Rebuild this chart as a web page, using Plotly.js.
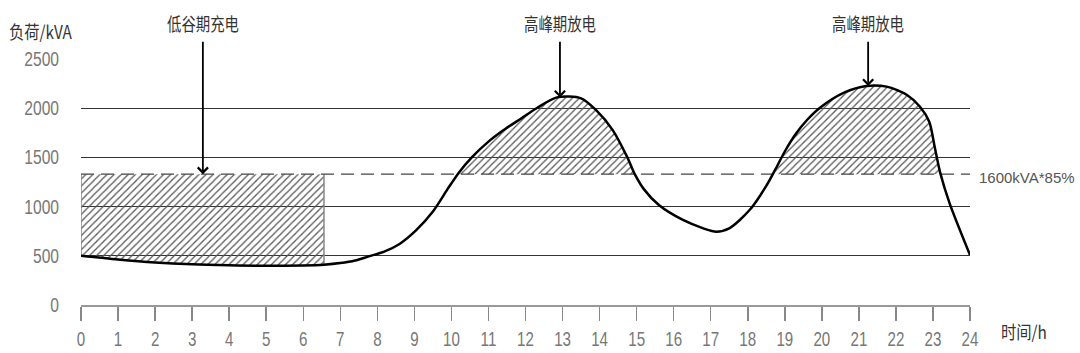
<!DOCTYPE html>
<html>
<head>
<meta charset="utf-8">
<script src="https://cdn.plot.ly/plotly-3.0.1.min.js"></script>
<style>html,body{margin:0;padding:0;background:#fff;}#chart{width:1080px;height:353px;}</style>
</head>
<body>
<div id="chart"></div>
<script>
// ---- data ----
const hours = [0, 1, 2, 3, 4, 5, 6, 6.56, 7, 7.4, 7.75, 8.2, 8.6, 9.05, 9.5, 9.9, 10.2, 10.55, 11.0, 11.4, 11.9, 12.3, 12.85, 13.5, 13.9, 14.35, 14.75, 14.95, 15.2, 15.6, 16.25, 16.8, 17.15, 17.5, 18.05, 18.5, 18.75, 19.0, 19.3, 19.6, 19.95, 20.6, 21.2, 21.75, 22.3, 22.65, 22.9, 23.05, 23.2, 23.45, 24];
const load  = [500, 462, 432, 413, 403, 398, 402, 410, 426, 452, 492, 545, 620, 760, 950, 1180, 1345, 1500, 1660, 1775, 1900, 2000, 2110, 2100, 1982, 1780, 1500, 1330, 1175, 1016, 864, 779, 745, 779, 965, 1210, 1380, 1560, 1740, 1880, 2005, 2158, 2226, 2219, 2134, 2015, 1863, 1600, 1338, 1033, 508];
const threshold = 1330;            // 1600kVA*85% line as drawn
const thresholdLabel = '1600kVA*85%';
const chargeStart = 0;
const chargeEnd = 6.56;            // end of the low-valley charging block (h)
const annoLabels = ['低谷期充电', '高峰期放电', '高峰期放电'];
const annoHours = [3.29, 12.93, 21.25];
const arrowTop = 2690;              // kVA level where the arrows start
const xTicks = [0,1,2,3,4,5,6,7,8,9,10,11,12,13,14,15,16,17,18,19,20,21,22,23,24];
const yTicks = [0, 500, 1000, 1500, 2000, 2500];
const yTitle = '负荷/kVA';
const xTitle = '时间/h';

// ---- helpers ----
function interp(x) {
  for (let i = 0; i < hours.length - 1; i++) {
    if (x >= hours[i] && x <= hours[i + 1]) {
      const t = (x - hours[i]) / (hours[i + 1] - hours[i]);
      return load[i] + t * (load[i + 1] - load[i]);
    }
  }
  return load[load.length - 1];
}
function crossing(i) {
  const t = (threshold - load[i]) / (load[i + 1] - load[i]);
  return hours[i] + t * (hours[i + 1] - hours[i]);
}
const peaks = [];
let start = null;
for (let i = 0; i < hours.length - 1; i++) {
  const a = load[i] - threshold, b = load[i + 1] - threshold;
  if (a <= 0 && b > 0) start = crossing(i);
  if (a > 0 && b <= 0 && start !== null) { peaks.push([start, crossing(i)]); start = null; }
}

const pattern = {shape: '/', size: 5, solidity: 0.25, fgcolor: '#555', bgcolor: 'rgba(0,0,0,0)'};
const SMOOTH = 0.8;
const traces = [];

// charging block
{
  const xs = [chargeStart], ys = [interp(chargeStart)];
  hours.forEach((h, i) => { if (h > chargeStart && h < chargeEnd) { xs.push(h); ys.push(load[i]); } });
  xs.push(chargeEnd); ys.push(interp(chargeEnd));
  traces.push({x: xs, y: ys, mode: 'lines', line: {width: 0, shape: 'spline', smoothing: SMOOTH}, hoverinfo: 'skip'});
  traces.push({x: [chargeStart, chargeEnd], y: [threshold, threshold], mode: 'lines', line: {width: 0},
    fill: 'tonexty', fillcolor: 'rgba(0,0,0,0)', fillpattern: pattern, hoverinfo: 'skip'});
  traces.push({x: [chargeStart, chargeStart, null, chargeEnd, chargeEnd],
    y: [interp(chargeStart), threshold, null, interp(chargeEnd), threshold],
    mode: 'lines', line: {color: '#888', width: 1.5}, hoverinfo: 'skip'});
}
// discharging peaks
peaks.forEach(([x0, x1]) => {
  traces.push({x: [x0, x1], y: [threshold, threshold], mode: 'lines', line: {width: 0}, hoverinfo: 'skip'});
  const xs = [x0], ys = [threshold];
  hours.forEach((h, i) => { if (h > x0 && h < x1) { xs.push(h); ys.push(load[i]); } });
  xs.push(x1); ys.push(threshold);
  traces.push({x: xs, y: ys, mode: 'lines', line: {width: 0, shape: 'spline', smoothing: SMOOTH},
    fill: 'tonexty', fillcolor: 'rgba(0,0,0,0)', fillpattern: pattern, hoverinfo: 'skip'});
});
// threshold dashed line
traces.push({x: [xTicks[0], xTicks[xTicks.length - 1]], y: [threshold, threshold], mode: 'lines',
  line: {color: '#444', width: 1.2, dash: '13px,7px'}, hoverinfo: 'skip'});
// load curve
traces.push({x: hours, y: load, mode: 'lines', line: {color: '#000', width: 2.5, shape: 'spline', smoothing: SMOOTH}});

const numFamily = '"Liberation Sans", Arial, sans-serif';
const numFont = {family: numFamily, size: 21, color: '#777'};
const cjkFont = {family: '"Noto Sans CJK SC", sans-serif', size: 18, color: '#333'};

const annotations = [];
annoLabels.forEach((txt, i) => {
  const headY = i === 0 ? threshold : interp(annoHours[i]);
  annotations.push({x: annoHours[i], y: headY, xref: 'x', yref: 'y', axref: 'x', ayref: 'y',
    ax: annoHours[i], ay: arrowTop, text: '', showarrow: true, arrowhead: 4, arrowsize: 1.1,
    arrowwidth: 1.8, arrowcolor: '#000', standoff: 0});
  annotations.push({x: annoHours[i], y: 1.148, xref: 'x', yref: 'paper', text: txt, showarrow: false,
    font: cjkFont, xanchor: 'center', yanchor: 'middle', name: 'center'});
});
annotations.push({x: 1.0075, xref: 'paper', y: threshold, yref: 'y', text: thresholdLabel, showarrow: false,
  xanchor: 'left', yanchor: 'middle', yshift: -3, font: {family: numFamily, size: 15, color: '#555'}, name: 'plain'});
annotations.push({x: -0.083, xref: 'paper', y: 1.112, yref: 'paper', text: yTitle, showarrow: false,
  xanchor: 'left', yanchor: 'middle', font: cjkFont, name: 'left'});
annotations.push({x: 1.033, xref: 'paper', y: -0.105, yref: 'paper', text: xTitle, showarrow: false,
  xanchor: 'left', yanchor: 'middle', font: cjkFont, name: 'left'});

const layout = {
  width: 1080, height: 353,
  margin: {l: 81, r: 110, t: 59, b: 48},
  paper_bgcolor: '#fff', plot_bgcolor: '#fff',
  showlegend: false,
  xaxis: {range: [0, 24], tickvals: xTicks, ticktext: xTicks.map(String), ticks: 'outside', ticklen: 14,
    tickwidth: 1.5, tickcolor: '#888', showline: true, linecolor: '#999', linewidth: 2,
    showgrid: false, zeroline: false, tickfont: numFont, fixedrange: true},
  yaxis: {range: [0, 2500], tickvals: yTicks, ticktext: yTicks.map(String), ticks: '', showline: false,
    showgrid: true, gridcolor: '#333', gridwidth: 1, zeroline: false, ticklabelstandoff: 21,
    tickfont: {family: numFamily, size: 20, color: '#777'}, fixedrange: true},
  annotations: annotations
};

// narrow the glyphs horizontally (reference uses a condensed face); text stays real text
function condenseEl(t, factor, keep) {
  const before = t.getBBox();
  const w = t.getComputedTextLength();
  if (!(w > 0)) return;
  t.setAttribute('textLength', (w * factor).toFixed(2));
  t.setAttribute('lengthAdjust', 'spacingAndGlyphs');
  if (keep === 'left' || keep === 'right') {
    const after = t.getBBox();
    const dx = keep === 'left' ? before.x - after.x : (before.x + before.width) - (after.x + after.width);
    const x0 = parseFloat(t.getAttribute('x') || '0');
    t.setAttribute('x', (x0 + dx).toFixed(2));
  }
}
function condense(sel, factor) {
  document.querySelectorAll(sel).forEach(t => condenseEl(t, factor, 'center'));
}

Plotly.newPlot('chart', traces, layout, {staticPlot: true, displayModeBar: false}).then(() => {
  condense('#chart .xtick text', 0.72);
  condense('#chart .ytick text', 0.78);
  document.querySelectorAll('#chart .annotation').forEach((g, i) => {
    const ann = layout.annotations[i];
    const t = g.querySelector('text.annotation-text');
    if (!ann || !t || !ann.text || ann.name === 'plain') return;
    const factor = ann.name === 'left' ? 0.85 : 0.8;
    condenseEl(t, factor, ann.name);
  });
});
</script>
</body>
</html>
